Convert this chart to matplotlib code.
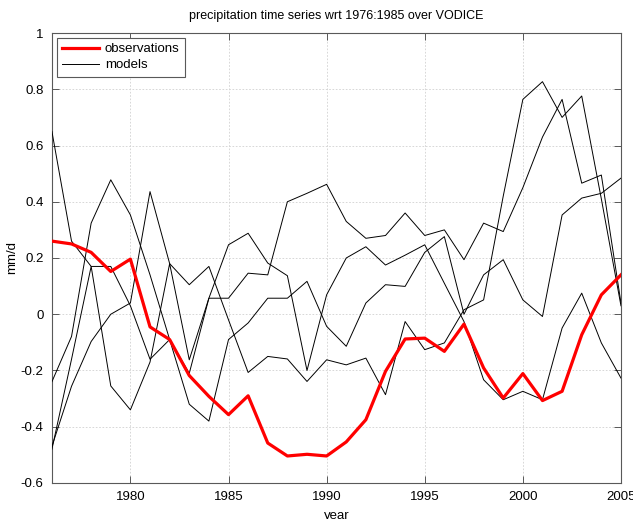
"""
Precipitation anomaly time series: observations vs models
"""
import matplotlib
matplotlib.use("Agg")
import matplotlib.pyplot as plt
import numpy as np

plt.rcParams['font.family'] = ['Liberation Sans', 'DejaVu Sans']

years = np.arange(1976, 2006)

observations = [0.26, 0.25, 0.22, 0.152, 0.196, -0.045, -0.09, -0.218, -0.292, -0.357,
                -0.29, -0.458, -0.504, -0.498, -0.504, -0.454, -0.375, -0.203, -0.088, -0.085,
                -0.132, -0.035, -0.191, -0.298, -0.211, -0.307, -0.274, -0.073, 0.069, 0.14]

model_1 = [-0.47, -0.256, -0.097, 0.0, 0.04, 0.436, 0.18, 0.105, 0.17, -0.02,
           -0.207, -0.15, -0.159, -0.239, -0.162, -0.18, -0.156, -0.286, -0.026, -0.126,
           -0.102, 0.016, 0.051, 0.42, 0.764, 0.827, 0.70, 0.776, 0.41, 0.03]
model_2 = [-0.24, -0.079, 0.324, 0.478, 0.353, 0.14, -0.09, -0.32, -0.38, -0.09,
           -0.031, 0.057, 0.057, 0.117, -0.043, -0.114, 0.04, 0.105, 0.099, 0.22,
           0.276, 0.0, 0.14, 0.194, 0.051, -0.008, 0.353, 0.413, 0.43, 0.484]
model_3 = [0.65, 0.26, 0.17, 0.17, 0.03, -0.16, -0.09, -0.21, 0.057, 0.247,
           0.288, 0.182, 0.137, -0.2, 0.069, 0.2, 0.24, 0.175, 0.21, 0.247,
           0.11, -0.026, -0.233, -0.304, -0.274, -0.304, -0.049, 0.075, -0.102, -0.227]
model_4 = [-0.48, -0.16, 0.17, -0.255, -0.34, -0.17, 0.18, -0.162, 0.057, 0.057,
           0.146, 0.14, 0.40, 0.43, 0.462, 0.33, 0.27, 0.28, 0.36, 0.28,
           0.30, 0.194, 0.324, 0.294, 0.45, 0.63, 0.764, 0.466, 0.495, 0.04]
models = [model_1, model_2, model_3, model_4]

x_ticks = [1980, 1985, 1990, 1995, 2000, 2005]
y_ticks = [-0.6, -0.4, -0.2, 0, 0.2, 0.4, 0.6, 0.8, 1]
y_tick_labels = ['-0.6', '-0.4', '-0.2', '0', '0.2', '0.4', '0.6', '0.8', '1']

fig = plt.figure(figsize=(6.33, 5.19), dpi=100)
ax = fig.add_axes([0.082, 0.0694, 0.899, 0.867])

obs_line, = ax.plot(years, observations, color='red', linewidth=2.3, zorder=5)
for i, m in enumerate(models):
    mline, = ax.plot(years, m, color='black', linewidth=0.7, zorder=3)
    if i == 0:
        model_line = mline

ax.set_xlim(1976, 2005)
ax.set_ylim(-0.6, 1)
ax.set_xticks(x_ticks)
ax.set_yticks(y_ticks)
ax.set_yticklabels(y_tick_labels)

ax.grid(True, linestyle=(0, (2, 2)), color='0.82', linewidth=0.6)
ax.set_axisbelow(True)
ax.tick_params(direction='in', top=True, right=True, length=5, width=0.6,
               labelsize=9.5, colors='0.25', labelcolor='black', pad=6)
for s in ax.spines.values():
    s.set_color('0.35')
    s.set_linewidth(0.8)

ax.set_xlabel('year', fontsize=9.5, labelpad=5)
ax.set_ylabel('mm/d', fontsize=9.5, labelpad=2)
ax.set_title('precipitation time series wrt 1976:1985 over VODICE', fontsize=9, pad=10)

leg = ax.legend([obs_line, model_line], ['observations', 'models'], loc='upper left',
                fontsize=9.5, fancybox=False, framealpha=1, edgecolor='0.35',
                handlelength=2.8, borderaxespad=0.35, borderpad=0.4,
                labelspacing=0.3, handletextpad=0.45)
leg.get_frame().set_linewidth(0.8)

fig.savefig('out.png', dpi=100)
plt.close(fig)
